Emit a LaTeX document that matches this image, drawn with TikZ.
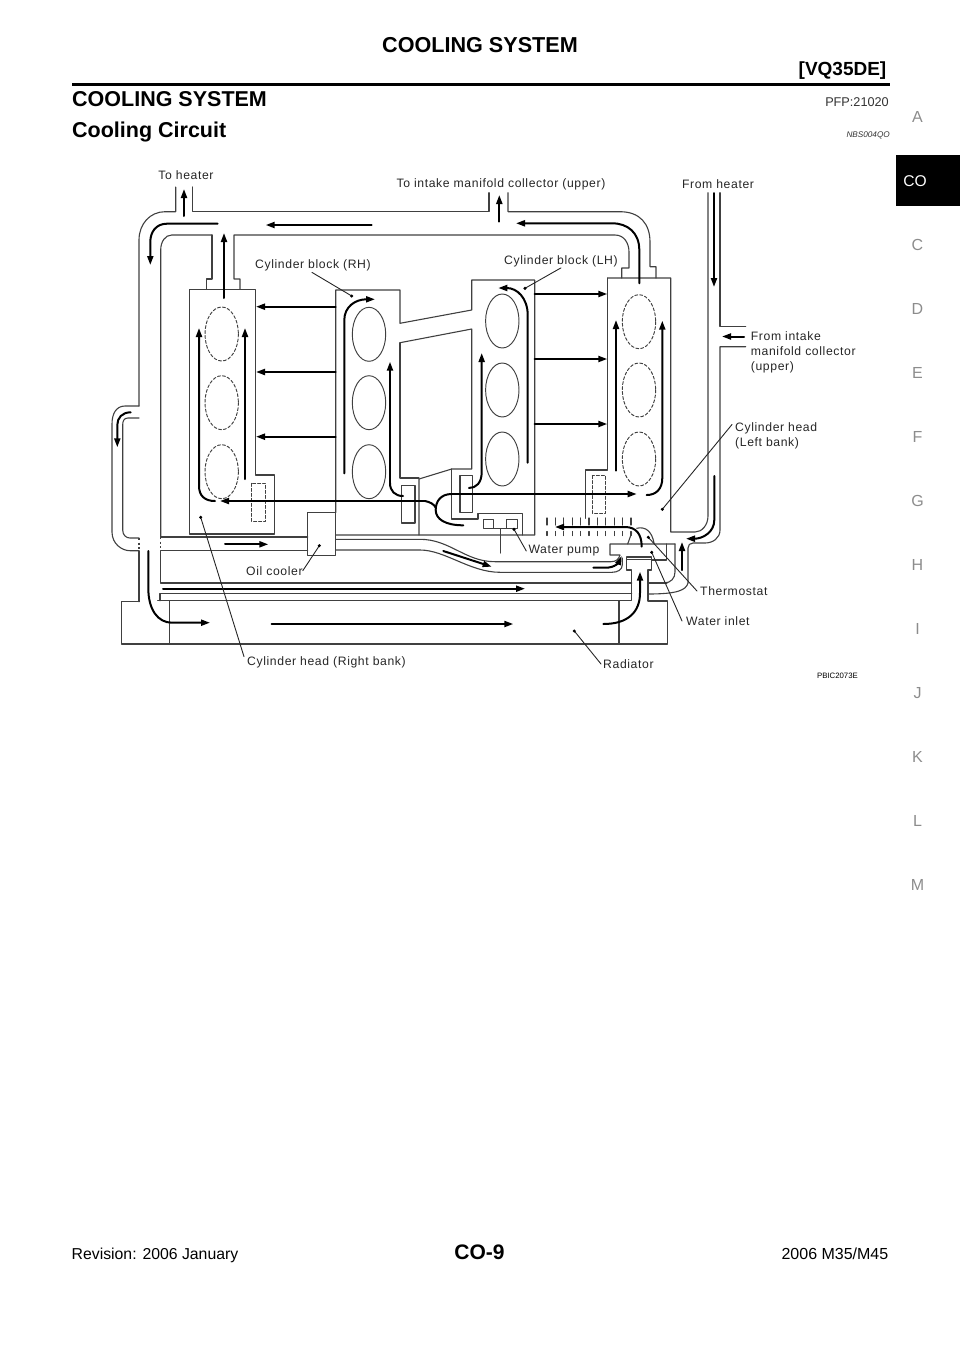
\documentclass[tikz,border=0pt]{standalone}
\usepackage{fontspec}
\setmainfont{Liberation Sans}
\newfontfamily\labelfont[LetterSpace=5]{Liberation Sans}
\usetikzlibrary{arrows.meta}
\definecolor{thinline}{gray}{0.25}
\definecolor{tabtext}{gray}{0.55}
\tikzset{
  wall/.style={draw=thinline, line width=1.1pt},
  cyl/.style={draw=thinline, line width=0.95pt},
  hiddencyl/.style={draw=thinline, line width=0.95pt, dash pattern=on 3pt off 2pt},
  flow/.style={->, line width=2pt},
  lead/.style={line width=0.9pt, draw=black!85},
  lbl/.style={font=\labelfont\fontsize{12.2}{15}\selectfont, inner sep=0pt, text=black!85, align=left}
}
\begin{document}
\begin{tikzpicture}[x=1pt, y=-1pt, line cap=round, line join=round, >={Triangle[length=9pt,width=6pt]}]
\useasboundingbox (0,0) rectangle (960,1358);

\node[anchor=base, inner sep=0pt, font=\bfseries\fontsize{21.6}{24}\selectfont] (title) at (480,52) {COOLING SYSTEM};
\node[anchor=base east, font=\bfseries\fontsize{19}{20}\selectfont, inner sep=0pt] (engine) at (886.5,75.5) {[VQ35DE]};
\draw[line width=3pt, line cap=butt] (72,84) -- (890,84);
\node[anchor=base west, font=\bfseries\fontsize{21.5}{24}\selectfont, inner sep=0pt] (section) at (72,106.5) {COOLING SYSTEM};
\node[anchor=base east, font=\fontsize{12.7}{14}\selectfont, inner sep=0pt, text=black!80] (pfp) at (889,106.5) {PFP:21020};
\node[anchor=base west, font=\bfseries\fontsize{21.5}{24}\selectfont, inner sep=0pt] (sub) at (72,137) {Cooling Circuit};
\node[anchor=base east, font=\itshape\fontsize{8.2}{10}\selectfont, inner sep=0pt, text=black!80] (nbs) at (890,137.3) {NBS004QO};

\fill (895.5,155) rectangle (960,205.5);
\node[text=white, font=\fontsize{15.6}{18}\selectfont] (tabco) at (915,181) {CO};
\foreach \tab/\ypos in {A/117,C/245,D/309,E/373,F/437,G/501,H/565,I/629,J/693,K/757,L/821,M/885}
  \node[text=tabtext, font=\fontsize{16}{18}\selectfont] (tab\tab) at (917.5,\ypos) {\tab};

\node[anchor=base west, font=\fontsize{15.8}{18}\selectfont, inner sep=0pt] (rev) at (71.5,1259) {Revision: 2006 January};
\node[anchor=base, font=\bfseries\fontsize{21}{24}\selectfont, inner sep=0pt] (pageno) at (479.5,1259) {CO-9};
\node[anchor=base east, font=\fontsize{16}{18}\selectfont, inner sep=0pt] (model) at (888.5,1259) {2006 M35/M45};

\draw[wall] (175.7,187) -- (175.7,211.7) -- (165,211.7) .. controls (150,211.7) and (139,224) .. (139,240) -- (139,406);
\draw[wall] (192.7,187) -- (192.7,211.7) -- (489,211.7) -- (489,192.7);
\draw[wall] (508,192.7) -- (508,211.7) -- (620,211.7) .. controls (640,211.7) and (650,224) .. (650,242) -- (650,266.7) -- (656,266.7) -- (656,278);
\draw[wall] (212,235) -- (171.7,235) .. controls (165,235) and (160.7,242) .. (160.7,250) -- (160.7,537);
\draw[wall, dash pattern=on 2pt off 2.5pt, line cap=butt] (160.7,537) -- (160.7,551);
\draw[wall] (212,235) -- (212,279) -- (206.7,279) -- (206.7,289.3);
\draw[wall] (240,289.3) -- (240,279) -- (234,279) -- (234,235) -- (615,235) .. controls (624,235) and (629,243) .. (629,252) -- (629,268) -- (621.7,268) -- (621.7,278);
\draw[wall] (160.7,551) -- (160.7,583);

\draw[wall] (139,406) -- (125,406) .. controls (116,406) and (112,414) .. (112,424) -- (112,532) .. controls (112,544) and (122,550.7) .. (130,550.7) -- (139,550.7);
\draw[wall] (139,418) -- (128,418) .. controls (124,418) and (122.7,421) .. (122.7,425) -- (122.7,530) .. controls (122.7,535) and (126,538) .. (130,538) -- (139,538);
\draw[wall, dash pattern=on 2pt off 2.5pt, line cap=butt] (139,538) -- (139,551);
\draw[wall] (139,551) -- (139,601.7);

\draw[wall] (189.3,289.3) -- (255.3,289.3) -- (255.3,475) -- (274.7,475) -- (274.7,534) -- (189.3,534) -- cycle;
\draw[wall] (160.7,537) -- (307.7,537) (160.7,550.7) -- (307.7,550.7);
\draw[wall] (307.7,512.7) rectangle (335.7,555.7);

\draw[wall] (335.7,512.7) -- (335.7,290) -- (400,290) -- (400,323.3) -- (471.7,310) -- (471.7,280) -- (534.7,280) -- (534.7,535) -- (335.7,535);
\draw[wall] (400,342.7) -- (471.7,329) -- (471.7,469) -- (451.7,469) -- (419,479) -- (419,535);
\draw[wall] (400,342.7) -- (400,478) -- (419,478);
\draw[wall] (401.7,485.7) rectangle (415,523);
\draw[wall] (451.7,469) -- (451.7,519) -- (478,519) -- (478,513.3) -- (522.7,513.3) -- (522.7,535);
\draw[wall] (460,475.7) rectangle (472.3,512.7);
\draw[wall] (483.3,519.3) rectangle (493.3,528.7);
\draw[wall] (506.7,519.3) rectangle (517.3,528.7);
\draw[wall] (493.3,528.7) -- (506.7,528.7) (500.7,528.7) -- (500.7,553);

\draw[wall] (607.7,278) -- (670.7,278) -- (670.7,532) -- (695,532) .. controls (702,532) and (708,525) .. (708,516) -- (708,192.7);
\draw[wall] (607.7,278) -- (607.7,470) -- (585.7,470) -- (585.7,518.3);
\draw[wall] (720,192.7) -- (720,326.7) -- (745.7,326.7);
\draw[wall] (745.7,346.7) -- (720,346.7) -- (720,530) .. controls (720,538) and (713,543) .. (705,543) -- (693,543) .. controls (690,543) and (688,545) .. (688,548) -- (688,583) .. controls (686,590) and (678,594) .. (648,594);

\draw[wall] (335.7,539.3) -- (420,539.3) .. controls (450,539.3) and (465,561.7) .. (495,561.7) -- (611,561.7) .. controls (616,561.7) and (619,559) .. (620,555) -- (610,555) -- (610,544) -- (675,544);
\draw[wall] (335.7,550) -- (420,550) .. controls (445,550) and (470,572.3) .. (500,572.3) -- (612,572.3) .. controls (617,572.3) and (622.3,570) .. (622.3,565) -- (622.3,558);
\draw[wall] (666.7,544) -- (666.7,560) -- (652,560);
\draw[wall] (675,544) -- (675,572) .. controls (675,578) and (671,583) .. (664,583);
\draw[wall] (626.7,557) -- (651.7,557) -- (651.7,570) -- (648,570) -- (648,601) -- (667.3,601) -- (667.3,644) -- (121.7,644) -- (121.7,601.7) -- (139,601.7);
\draw[wall] (626.7,559.5) -- (651.7,559.5);
\draw[wall] (626.7,557) -- (626.7,570) -- (631.7,570) -- (631.7,600.7) -- (157.7,600.7);
\draw[wall] (160.7,583) -- (631.7,583) (648,583) -- (667,583);
\draw[wall] (160,600.7) -- (160,593.3) -- (631.7,593.3);
\draw[wall] (169.3,601) -- (169.3,644) (619,601) -- (619,644);

\foreach \cx/\cy in {221.7/334, 221.7/402.7, 221.7/471.7, 639/321.7, 639/390, 639/459}
  \draw[hiddencyl] (\cx,\cy) ellipse (16.7 and 27);
\foreach \cx/\cy in {369/334.3, 369/402.7, 369/471.7, 502.3/321, 502.3/390, 502.3/459}
  \draw[cyl] (\cx,\cy) ellipse (16.7 and 27);
\draw[hiddencyl] (251.7,483.3) rectangle (265.7,521.3);
\draw[hiddencyl] (592.3,475.7) rectangle (605.7,513.3);
\foreach \tick in {0,...,10} {
  \draw[wall] ({547+8.4*\tick},518) -- ({547+8.4*\tick},525);
  \draw[wall] ({547+8.4*\tick},531.5) -- ({547+8.4*\tick},535.5);
}
\draw[wall] (636.7,528.3) .. controls (646,526) and (652,532) .. (654,543);
\draw[wall] (627.7,544) -- (631.7,532.7);

\draw[flow] (184,216) -- (184,189);
\draw[flow] (217.7,223.7) -- (167,223.7) .. controls (156,223.7) and (150.3,232) .. (150.3,242) -- (150.3,265);
\draw[flow] (371.7,225) -- (265.7,225);
\draw[flow] (224,298) -- (224,233);
\draw[flow] (499.3,221.7) -- (499.3,195);
\draw[flow] (639.3,283.3) -- (639.3,250) .. controls (639.3,233) and (628,223.3) .. (612,223.3) -- (516,223.3);
\draw[flow] (714,193) -- (714,287);
\draw[flow] (744,336.5) -- (722,336.5);
\draw[flow] (130.7,412.3) .. controls (122,412.3) and (117.3,418) .. (117.3,425) -- (117.3,447.3);
\foreach \ypos in {306.7,372,436.7}
  \draw[flow] (335.7,\ypos) -- (256,\ypos);
\foreach \ypos in {294,359,424}
  \draw[flow] (534.7,\ypos) -- (607.3,\ypos);
\draw[flow] (215,501) .. controls (205,501) and (199,496) .. (199,486) -- (199,328);
\draw[flow] (245,479) -- (245,328);
\draw[flow] (344.3,473.3) -- (344.3,320) .. controls (344.3,307) and (355,299.3) .. (375,299.3);
\draw[line width=2pt] (390,483) .. controls (390,491) and (395,496) .. (403,496);
\draw[flow] (390,483) -- (390,361.7);
\draw[flow] (527.7,462.7) -- (527.7,315) .. controls (527.7,298) and (517,288) .. (498.3,288);
\draw[flow] (469,488) .. controls (476,488) and (481.7,483) .. (481.7,472) -- (481.7,353);
\draw[flow] (616,470.7) -- (616,320);
\draw[flow] (646.7,495) .. controls (656,495) and (662.3,489) .. (662.3,478) -- (662.3,320.7);
\draw[flow] (451.7,494) -- (636.7,494);
\draw[flow] (425,501) -- (220,501);
\draw[line width=2pt] (425,501) .. controls (430,502) and (434,504) .. (436,508);
\draw[line width=2pt] (451.7,494) .. controls (441,494) and (435.7,501) .. (435.7,510) .. controls (435.7,519) and (445,525.3) .. (463.3,525.3);
\draw[flow] (641.7,546.7) .. controls (641.7,534) and (636,527) .. (625,527) -- (555,527);
\draw[flow] (714.3,476) -- (714.3,520) .. controls (714.3,532) and (703,538.7) .. (686,538.7);
\draw[flow] (682,570) -- (682,542);
\draw[flow] (225,544.3) -- (268.3,544.3);
\draw[flow] (443.3,551) -- (491.7,566.7);
\draw[flow] (593.3,567.7) -- (606,567.7) .. controls (615,567.7) and (619,562) .. (621.7,556);
\draw[flow] (163,588.7) -- (525,588.7);
\draw[flow] (148.3,551) -- (148.3,588) .. controls (148.3,610) and (158,622.7) .. (172,622.7) -- (210,622.7);
\draw[flow] (271.7,624) -- (513.3,624);
\draw[flow] (603.3,624) .. controls (628,624) and (640,612) .. (640,593) -- (640,571.7);

\node[lbl] (toheater) at (186,175) {To heater};
\node[lbl] (tointake) at (501,184.5) {To intake manifold collector (upper)};
\node[lbl] (fromheater) at (718,184) {From heater};
\node[lbl, anchor=west] (blockrh) at (255,265.5) {Cylinder block (RH)};
\node[lbl, anchor=west] (blocklh) at (504,261) {Cylinder block (LH)};
\node[lbl, anchor=north west] (fromintake) at (750.7,331) {From intake\\manifold collector\\(upper)};
\node[lbl, anchor=north west] (headleft) at (735,422.5) {Cylinder head\\(Left bank)};
\node[lbl, anchor=west] (oilcooler) at (246,570.7) {Oil cooler};
\node[lbl, anchor=west] (waterpump) at (528.3,551) {Water pump};
\node[lbl, anchor=west] (headright) at (247,662.5) {Cylinder head (Right bank)};
\node[lbl, anchor=west] (radiator) at (603,664) {Radiator};
\node[lbl, anchor=west] (thermostat) at (700,591) {Thermostat};
\node[lbl, anchor=west] (waterinlet) at (686,621) {Water inlet};
\node[anchor=base east, inner sep=0pt, font=\fontsize{7.8}{9}\selectfont] (partno) at (858,678) {PBIC2073E};

\coordinate (dotrh) at (351.7,296);
\coordinate (dotlh) at (525,288.3);
\coordinate (dotoil) at (319.3,545.7);
\coordinate (dothr) at (200.7,517.3);
\coordinate (dotrad) at (574.3,631);
\coordinate (dotpump) at (514,529.3);
\coordinate (dottherm) at (648.3,537.3);
\coordinate (dotinlet) at (651.7,552.3);
\coordinate (dothl) at (662.3,509.3);

\draw[lead] (blockrh.south) ++(-1,1) -- (dotrh);
\draw[lead] (blocklh.south) ++(0,1) -- (dotlh);
\draw[lead] (oilcooler.east) -- (dotoil);
\draw[lead] (headright.north west) ++(-3,0) -- (dothr);
\draw[lead] (radiator.west) ++(-2,0) -- (dotrad);
\draw[lead] (waterpump.west) ++(-2,0) -- (dotpump);
\draw[lead] (thermostat.west) ++(-3,0) -- (dottherm);
\draw[lead] (waterinlet.west) ++(-4,0) -- (dotinlet);
\draw[lead] (headleft.north west) ++(-3,2) -- (dothl);
\foreach \dotname in {dotrh,dotlh,dotoil,dothr,dotrad,dotpump,dottherm,dotinlet,dothl}
  \fill (\dotname) circle (1.7);
\end{tikzpicture}
\end{document}
